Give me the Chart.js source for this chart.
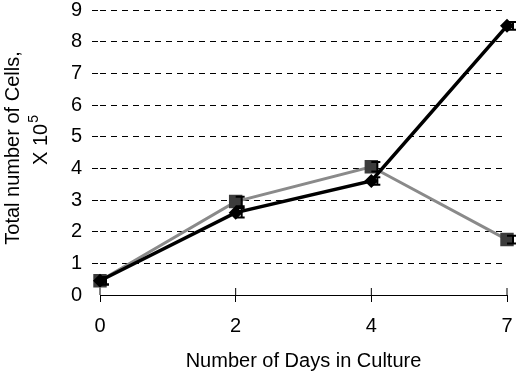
<!DOCTYPE html>
<html>
<head>
<meta charset="utf-8">
<script src="https://cdn.jsdelivr.net/npm/chart.js@4.4.1/dist/chart.umd.min.js"></script>
<style>
  html, body { margin: 0; padding: 0; background: #fff; }
  #wrap { width: 520px; height: 377px; }
</style>
</head>
<body>
<div id="wrap"><canvas id="js-chart-cells"></canvas></div>
<script>
// Data
const days = ['0', '2', '4', '7'];
const seriesDiamond = [0.45, 2.6, 3.6, 8.5];
const seriesSquare = [0.45, 2.95, 4.05, 1.75];
const errDiamond = [0.12, 0.15, 0.12, 0.12];
const errSquare = [0.12, 0.15, 0.15, 0.12];
const yTicks = [0, 1, 2, 3, 4, 5, 6, 7, 8, 9];

const FONT = '"Liberation Sans", Arial, Helvetica, sans-serif';
Chart.defaults.font.family = FONT;
Chart.defaults.font.size = 20;
Chart.defaults.color = '#000';

// small error bars plus tick marks inside the x axis
const errorBars = {
  id: 'errorBars',
  afterDatasetsDraw(chart) {
    const ctx = chart.ctx;
    const xs = chart.scales.x, ys = chart.scales.y;
    ctx.save();
    ctx.strokeStyle = '#000';
    ctx.lineWidth = 2;
    chart.data.datasets.forEach(function (ds) {
      ds.data.forEach(function (v, i) {
        let x = xs.getPixelForValue(i);
        let y1 = ys.getPixelForValue(v - ds.err[i]);
        let y2 = ys.getPixelForValue(v + ds.err[i]);
        ctx.beginPath();
        ctx.moveTo(x + 6, y1); ctx.lineTo(x + 6, y2);
        ctx.moveTo(x, y1); ctx.lineTo(x + 9, y1);
        ctx.moveTo(x, y2); ctx.lineTo(x + 9, y2);
        ctx.stroke();
      });
    });
    ctx.lineWidth = 1;
    let y0 = ys.getPixelForValue(0);
    days.forEach(function (d, i) {
      let x = xs.getPixelForValue(i);
      ctx.beginPath();
      ctx.moveTo(x, y0 - 7); ctx.lineTo(x, y0);
      ctx.stroke();
    });
    ctx.restore();
  }
};

// y title in two rotated lines, with a raised 5
const yTitle = {
  id: 'yTitle',
  afterDraw(chart) {
    const ctx = chart.ctx;
    ctx.save();
    ctx.fillStyle = '#000';
    ctx.textBaseline = 'middle';
    ctx.translate(13, 148);
    ctx.rotate(-Math.PI / 2);
    ctx.font = '20px ' + FONT;
    ctx.textAlign = 'center';
    ctx.fillText('Total number of Cells,', 0, 0);
    ctx.restore();

    ctx.save();
    ctx.fillStyle = '#000';
    ctx.textBaseline = 'middle';
    ctx.translate(41, 140);
    ctx.rotate(-Math.PI / 2);
    ctx.font = '20px ' + FONT;
    let base = 'X 10';
    let wb = ctx.measureText(base).width;
    ctx.font = '14px ' + FONT;
    let ws = ctx.measureText('5').width;
    let x0 = -(wb + ws + 1) / 2;
    ctx.textAlign = 'left';
    ctx.font = '20px ' + FONT;
    ctx.fillText(base, x0, 0);
    ctx.font = '14px ' + FONT;
    ctx.fillText('5', x0 + wb + 1, -7);
    ctx.restore();
  }
};

let chartCellsCon = document.getElementById('js-chart-cells');

let chartCellsData = {
  labels: days,
  datasets: [
    {
      label: 'Diamond',
      data: seriesDiamond,
      err: errDiamond,
      borderColor: '#000',
      backgroundColor: '#000',
      borderWidth: 3.5,
      pointStyle: 'rectRot',
      pointRadius: 7,
      pointBorderWidth: 0,
      order: 1
    },
    {
      label: 'Square',
      data: seriesSquare,
      err: errSquare,
      borderColor: '#8a8a8a',
      backgroundColor: '#3c3c3c',
      borderWidth: 3,
      pointStyle: 'rect',
      pointRadius: 9.5,
      pointBorderWidth: 0,
      order: 2
    }
  ]
};

let chartCellsOptions = {
  responsive: true,
  maintainAspectRatio: false,
  animation: false,
  tension: 0,
  layout: { padding: { top: 10, right: 13, left: 0, bottom: 0 } },
  plugins: {
    legend: { display: false },
    tooltip: { enabled: false }
  },
  scales: {
    x: {
      type: 'category',
      offset: false,
      border: { display: true, color: '#000', width: 1 },
      grid: { drawOnChartArea: false, drawTicks: true, tickLength: 7, color: '#000' },
      ticks: { padding: 12, maxRotation: 0 },
      title: { display: true, text: 'Number of Days in Culture', padding: { top: 8, bottom: 4 } },
      afterFit: function (scale) {
        scale.height = 82;
        scale.paddingLeft = 0;
        scale.paddingRight = 0;
      }
    },
    y: {
      min: 0,
      max: 9,
      afterBuildTicks: function (scale) { scale.ticks = yTicks.map(function (v) { return { value: v }; }); },
      // in v4 the grid line dash comes from border.dash
      border: { display: false, dash: [6, 5] },
      grid: {
        color: function (c) { return c.tick && c.tick.value === 0 ? 'rgba(0,0,0,0)' : '#000'; },
        lineWidth: 1,
        tickLength: 8,
        tickBorderDash: [6, 5]
      },
      ticks: { padding: 10 },
      afterFit: function (scale) {
        scale.width = 100;
        scale.paddingTop = 0;
        scale.paddingBottom = 0;
      }
    }
  }
};

if (chartCellsCon !== null) {
  new Chart(chartCellsCon, { type: 'line', data: chartCellsData, options: chartCellsOptions, plugins: [errorBars, yTitle] });
}
</script>
</body>
</html>
